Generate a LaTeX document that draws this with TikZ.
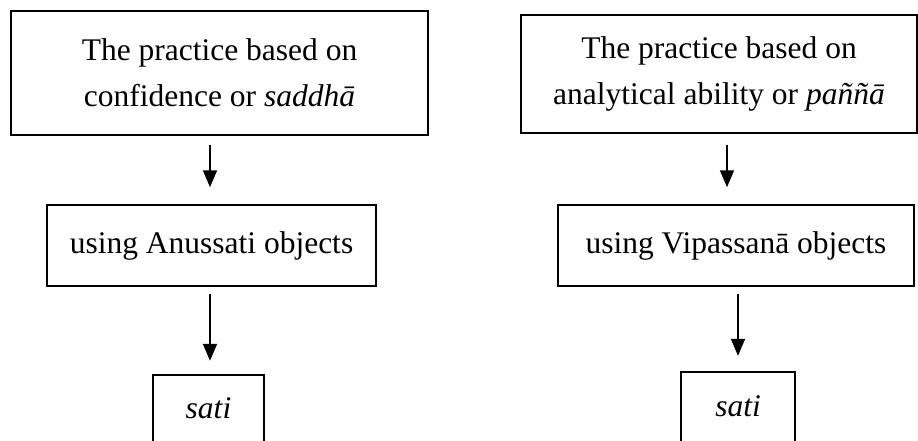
\documentclass[tikz,border=0pt]{standalone}
\usepackage{fontspec}
\setmainfont{Liberation Serif}
\usetikzlibrary{arrows.meta}

\begin{document}
\begin{tikzpicture}[x=1pt, y=-1pt]
        \def\fs{\fontsize{31.5}{46}\selectfont}
        \tikzstyle{box}=[rectangle, draw=black, line width=1.5pt, align=center, inner sep=0pt, font=\fs]
        \tikzstyle{open}=[rectangle, inner sep=0pt, font=\fs]
        \tikzstyle{arr}=[line width=1.7pt, -{Triangle[width=14pt, length=17pt]}]

        \useasboundingbox (0,0) rectangle (918,441);

        % Nodes
        \node[box, minimum width=417pt, minimum height=124pt] (topL) at (219.5, 73) {The practice based on\\confidence or \textit{saddhā}};
        \node[box, minimum width=329pt, minimum height=81pt] (midL) at (211.5, 245.5) {using Anussati objects};
        \node[open, minimum width=111pt, minimum height=66pt] (satiL) at (208.5, 408) {\textit{sati}};

        \node[box, minimum width=396pt, minimum height=118pt] (topR) at (719, 74) {The practice based on\\analytical ability or \textit{paññā}};
        \node[box, minimum width=356pt, minimum height=81pt] (midR) at (736, 245.5) {using Vipassanā objects};
        \node[open, minimum width=114pt, minimum height=69pt] (satiR) at (738, 406.5) {\textit{sati}};

        % open boxes
        \draw[line width=1.5pt] (satiL.south west) -- (satiL.north west) -- (satiL.north east) -- (satiL.south east);
        \draw[line width=1.5pt] (satiR.south west) -- (satiR.north west) -- (satiR.north east) -- (satiR.south east);

        % Edges
        \draw[arr, shorten <=9pt, shorten >=17pt] ([xshift=-9.5pt]topL.south) -- ([xshift=-1.5pt]midL.north);
        \draw[arr, shorten <=7pt, shorten >=14pt] ([xshift=-1.5pt]midL.south) -- ([xshift=1.5pt]satiL.north);

        \draw[arr, shorten <=11pt, shorten >=17pt] ([xshift=8pt]topR.south) -- ([xshift=-9pt]midR.north);
        \draw[arr, shorten <=7pt, shorten >=16pt] ([xshift=2pt]midR.south) -- (satiR.north);

    \end{tikzpicture}
\end{document}
